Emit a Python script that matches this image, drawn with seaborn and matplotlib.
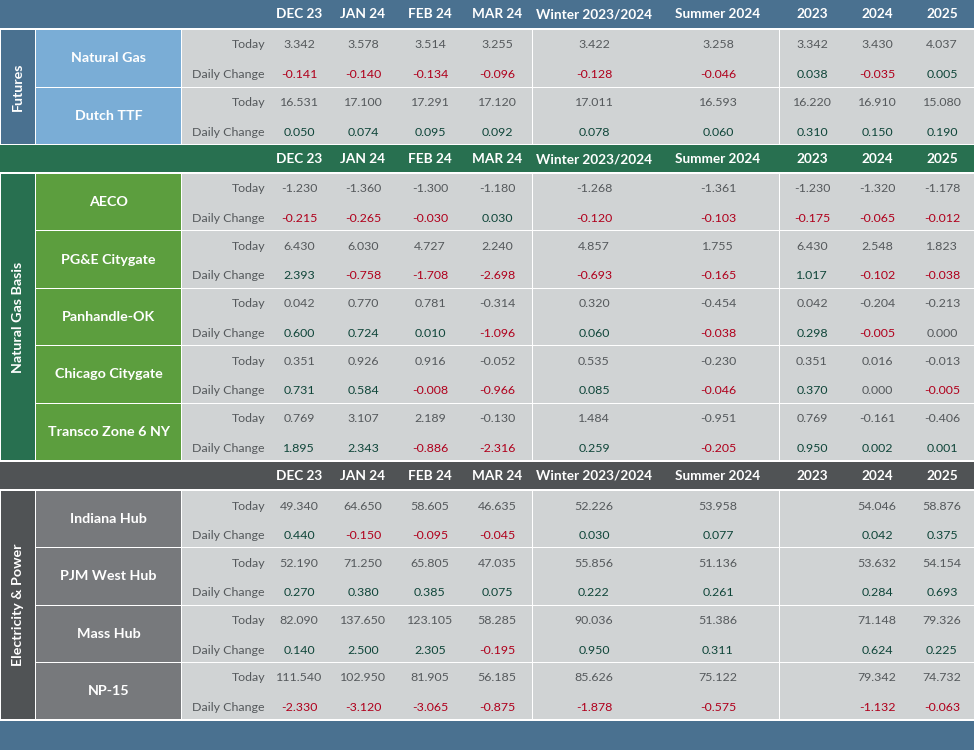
import matplotlib
matplotlib.use("Agg")
import matplotlib.pyplot as plt
import matplotlib.patches as mpatches
import seaborn as sns

# ---------------- data ----------------
columns = ["DEC 23", "JAN 24", "FEB 24", "MAR 24", "Winter 2023/2024",
           "Summer 2024", "2023", "2024", "2025"]

futures_names = ["Natural Gas", "Dutch TTF"]
futures_today = [
    [3.342, 3.578, 3.514, 3.255, 3.422, 3.258, 3.342, 3.430, 4.037],
    [16.531, 17.100, 17.291, 17.120, 17.011, 16.593, 16.220, 16.910, 15.080],
]
futures_change = [
    [-0.141, -0.140, -0.134, -0.096, -0.128, -0.046, 0.038, -0.035, 0.005],
    [0.050, 0.074, 0.095, 0.092, 0.078, 0.060, 0.310, 0.150, 0.190],
]

basis_names = ["AECO", "PG&E Citygate", "Panhandle-OK", "Chicago Citygate",
               "Transco Zone 6 NY"]
basis_today = [
    [-1.230, -1.360, -1.300, -1.180, -1.268, -1.361, -1.230, -1.320, -1.178],
    [6.430, 6.030, 4.727, 2.240, 4.857, 1.755, 6.430, 2.548, 1.823],
    [0.042, 0.770, 0.781, -0.314, 0.320, -0.454, 0.042, -0.204, -0.213],
    [0.351, 0.926, 0.916, -0.052, 0.535, -0.230, 0.351, 0.016, -0.013],
    [0.769, 3.107, 2.189, -0.130, 1.484, -0.951, 0.769, -0.161, -0.406],
]
basis_change = [
    [-0.215, -0.265, -0.030, 0.030, -0.120, -0.103, -0.175, -0.065, -0.012],
    [2.393, -0.758, -1.708, -2.698, -0.693, -0.165, 1.017, -0.102, -0.038],
    [0.600, 0.724, 0.010, -1.096, 0.060, -0.038, 0.298, -0.005, 0.000],
    [0.731, 0.584, -0.008, -0.966, 0.085, -0.046, 0.370, 0.000, -0.005],
    [1.895, 2.343, -0.886, -2.316, 0.259, -0.205, 0.950, 0.002, 0.001],
]

power_names = ["Indiana Hub", "PJM West Hub", "Mass Hub", "NP-15"]
power_today = [
    [49.340, 64.650, 58.605, 46.635, 52.226, 53.958, None, 54.046, 58.876],
    [52.190, 71.250, 65.805, 47.035, 55.856, 51.136, None, 53.632, 54.154],
    [82.090, 137.650, 123.105, 58.285, 90.036, 51.386, None, 71.148, 79.326],
    [111.540, 102.950, 81.905, 56.185, 85.626, 75.122, None, 79.342, 74.732],
]
power_change = [
    [0.440, -0.150, -0.095, -0.045, 0.030, 0.077, None, 0.042, 0.375],
    [0.270, 0.380, 0.385, 0.075, 0.222, 0.261, None, 0.284, 0.693],
    [0.140, 2.500, 2.305, -0.195, 0.950, 0.311, None, 0.624, 0.225],
    [-2.330, -3.120, -3.065, -0.875, -1.878, -0.575, None, -1.132, -0.063],
]

sections = [
    ("Futures", futures_names, futures_today, futures_change),
    ("Natural Gas Basis", basis_names, basis_today, basis_change),
    ("Electricity & Power", power_names, power_today, power_change),
]

# ---------------- style ----------------
sns.set_theme(style="white")
plt.rcParams["font.family"] = ["Lato", "DejaVu Sans"]

BLUE = "#4a7190"
LIGHTBLUE = "#7aadd6"
GREEN_D = "#287050"
GREEN_L = "#5c9e3e"
GREY_D = "#505355"
GREY_L = "#77797c"
CELL = "#d0d3d4"
TXT = "#55595c"
POS = "#10463a"
NEG = "#b0001c"

section_colors = [(BLUE, LIGHTBLUE), (GREEN_D, GREEN_L), (GREY_D, GREY_L)]
header_spans = [(0, 28), (145, 172), (462, 489)]
section_spans = [(30, 144), (174, 460), (491, 719)]

col_x = [299, 363, 430, 497, 594, 718, 812, 877, 942]
vsep = [532, 779]
X_RIGHT = 974

FS_HEAD = 9.8
FS_NAME = 10.3
FS_SEC = 10.3
FS_DATA = 8.9

fig = plt.figure(figsize=(9.75, 7.5), dpi=100)
ax = fig.add_axes([0, 0, 1, 1])
ax.set_xlim(0, 975)
ax.set_ylim(750, 0)
ax.axis("off")
fig.patch.set_facecolor("white")


def rect(x0, y0, x1, y1, color):
    ax.add_patch(mpatches.Rectangle((x0, y0), x1 - x0, y1 - y0,
                                    facecolor=color, edgecolor="none", lw=0))


def fmt(v):
    return "" if v is None else f"{v:.3f}"


def chg_color(v):
    if v is None or abs(v) < 1e-12:
        return TXT
    return POS if v > 0 else NEG


for si, (label, names, today, change) in enumerate(sections):
    dark, light = section_colors[si]
    hy0, hy1 = header_spans[si]
    rect(0, hy0, X_RIGHT, hy1, dark)
    hy = (hy0 + hy1) / 2 + 0.5
    for cx, c in zip(col_x, columns):
        ax.text(cx, hy, c, ha="center", va="center", color="white",
                fontsize=FS_HEAD, fontweight="bold")

    sy0, sy1 = section_spans[si]
    rect(1, sy0, 35, sy1, dark)
    ax.text(18, (sy0 + sy1) / 2, label, rotation=90, ha="center",
            va="center", color="white", fontsize=FS_SEC, fontweight="bold")

    n = len(names)
    rh = (sy1 - sy0 + 1) / n
    for ri in range(n):
        ry0 = sy0 + ri * rh
        ry1 = ry0 + rh - 1
        rect(36, ry0, 181, ry1, light)
        rect(182, ry0, X_RIGHT, ry1, CELL)
        ax.text(108.5, (ry0 + ry1) / 2, names[ri], ha="center", va="center",
                color="white", fontsize=FS_NAME, fontweight="bold")
        ty = ry0 + 15
        dy = ry0 + 44.5
        ax.text(265, ty, "Today", ha="right", va="center", color=TXT,
                fontsize=FS_DATA)
        ax.text(265, dy, "Daily Change", ha="right", va="center", color=TXT,
                fontsize=FS_DATA)
        for ci, cx in enumerate(col_x):
            ax.text(cx, ty, fmt(today[ri][ci]), ha="center", va="center",
                    color=TXT, fontsize=FS_DATA)
            cv = change[ri][ci]
            ax.text(cx, dy, fmt(cv), ha="center", va="center",
                    color=chg_color(cv), fontsize=FS_DATA)
        for vx in vsep:
            rect(vx - 0.5, ry0, vx + 0.5, ry1, "white")

# bottom band
rect(0, 721, X_RIGHT, 750, BLUE)

fig.savefig("out.png", dpi=100, facecolor="white")
